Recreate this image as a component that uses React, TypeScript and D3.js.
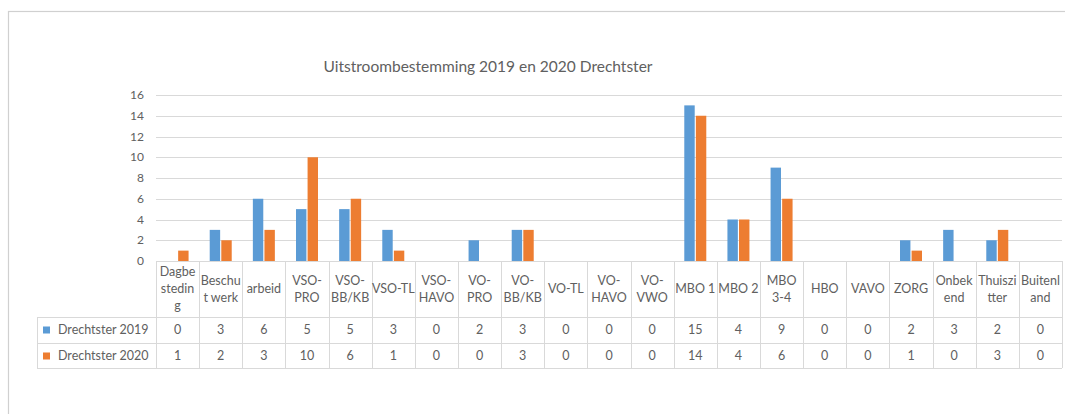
import { useRef, useEffect } from 'react';
import * as d3 from 'd3';

const categories = [
  'Dagbesteding', 'Beschut werk', 'arbeid', 'VSO-PRO', 'VSO-BB/KB', 'VSO-TL', 'VSO-HAVO',
  'VO-PRO', 'VO-BB/KB', 'VO-TL', 'VO-HAVO', 'VO-VWO', 'MBO 1', 'MBO 2', 'MBO 3-4',
  'HBO', 'VAVO', 'ZORG', 'Onbekend', 'Thuiszitter', 'Buitenland',
];
// header cell text as Excel wraps it
const categoryLines = [
  ['Dagbe', 'stedin', 'g'], ['Beschu', 't werk'], ['arbeid'], ['VSO-', 'PRO'], ['VSO-', 'BB/KB'],
  ['VSO-TL'], ['VSO-', 'HAVO'], ['VO-', 'PRO'], ['VO-', 'BB/KB'], ['VO-TL'], ['VO-', 'HAVO'],
  ['VO-', 'VWO'], ['MBO 1'], ['MBO 2'], ['MBO', '3-4'], ['HBO'], ['VAVO'], ['ZORG'],
  ['Onbek', 'end'], ['Thuiszi', 'tter'], ['Buitenl', 'and'],
];
const seriesNames = ['Drechtster 2019', 'Drechtster 2020'];
const values2019 = [0, 3, 6, 5, 5, 3, 0, 2, 3, 0, 0, 0, 15, 4, 9, 0, 0, 2, 3, 2, 0];
const values2020 = [1, 2, 3, 10, 6, 1, 0, 0, 3, 0, 0, 0, 14, 4, 6, 0, 0, 1, 0, 3, 0];
const yTicks = [0, 2, 4, 6, 8, 10, 12, 14, 16];
const colors = ['#5B9BD5', '#ED7D31'];
const title = 'Uitstroombestemming 2019 en 2020  Drechtster';

export default function App() {
  const svgRef = useRef<SVGSVGElement>(null);

  useEffect(() => {
    if (!svgRef.current) return;
    const svg = d3.select(svgRef.current);
    svg.selectAll('*').remove();

    const font = 'Lato, "Open Sans", sans-serif';
    const textColor = '#606060';
    const lineColor = '#d9d9d9';
    const left = 156, right = 1062, top = 95, bottom = 261;
    const row1 = 317, row2 = 343, row3 = 368, legendLeft = 37;

    // chart frame
    svg.append('rect').attr('x', 8.5).attr('y', 11.5).attr('width', 1070).attr('height', 420)
      .attr('fill', '#fff').attr('stroke', '#d0d0d0').attr('stroke-width', 1.2);

    svg.append('text').attr('x', 488).attr('y', 72).attr('text-anchor', 'middle')
      .attr('font-family', font).attr('font-size', 15.5).attr('fill', textColor).text(title);

    const x = d3.scaleBand().domain(categories).range([left, right]);
    const y = d3.scaleLinear().domain([0, 16]).range([bottom, top]);
    const bw = x.bandwidth();
    const xInner = d3.scaleBand().domain(seriesNames).range([bw / 2 - 11, bw / 2 + 11]).paddingInner(0.1);

    // gridlines
    svg.append('g').selectAll('line').data(yTicks).join('line')
      .attr('x1', left).attr('x2', right)
      .attr('y1', (d) => Math.round(y(d)) + 0.5).attr('y2', (d) => Math.round(y(d)) + 0.5)
      .attr('stroke', lineColor).attr('stroke-width', 1);

    svg.append('g').selectAll('text').data(yTicks).join('text')
      .attr('x', 144).attr('y', (d) => y(d)).attr('dy', '0.35em').attr('text-anchor', 'end')
      .attr('font-family', font).attr('font-size', 12).attr('fill', textColor)
      .text((d) => String(d));

    // bars
    const seriesValues = [values2019, values2020];
    seriesNames.forEach((name, si) => {
      svg.append('g').selectAll('rect').data(categories).join('rect')
        .attr('x', (c) => (x(c) ?? 0) + (xInner(name) ?? 0))
        .attr('y', (_, i) => y(seriesValues[si][i]))
        .attr('width', xInner.bandwidth())
        .attr('height', (_, i) => y(0) - y(seriesValues[si][i]))
        .attr('fill', colors[si]);
    });

    // data table
    const grid = svg.append('g').attr('stroke', lineColor).attr('stroke-width', 1);
    const bounds = categories.map((c) => x(c) ?? 0).concat([right]);
    bounds.forEach((bx) => {
      grid.append('line').attr('x1', Math.round(bx) + 0.5).attr('x2', Math.round(bx) + 0.5)
        .attr('y1', bottom).attr('y2', row3);
    });
    grid.append('line').attr('x1', legendLeft + 0.5).attr('x2', legendLeft + 0.5).attr('y1', row1).attr('y2', row3);
    [row1, row2, row3].forEach((ry) => {
      grid.append('line').attr('x1', legendLeft).attr('x2', right).attr('y1', ry + 0.5).attr('y2', ry + 0.5);
    });

    const lh = 17;
    const hdr = svg.append('g').attr('font-family', font).attr('font-size', 12.5).attr('fill', textColor)
      .attr('text-anchor', 'middle');
    categories.forEach((c, i) => {
      const lines = categoryLines[i];
      const cx = (x(c) ?? 0) + bw / 2;
      const cy = (bottom + row1) / 2 - ((lines.length - 1) * lh) / 2;
      lines.forEach((ln, li) => {
        hdr.append('text').attr('x', cx).attr('y', cy + li * lh).attr('dy', '0.35em').text(ln);
      });
    });

    [row1, row2].forEach((ry, si) => {
      const cy = ry + (row2 - row1) / 2;
      svg.append('rect').attr('x', 43).attr('y', cy - 3.5).attr('width', 7).attr('height', 7).attr('fill', colors[si]);
      svg.append('text').attr('x', 58).attr('y', cy).attr('dy', '0.35em')
        .attr('font-family', font).attr('font-size', 12.5).attr('fill', textColor).text(seriesNames[si]);
      svg.append('g').selectAll('text').data(categories).join('text')
        .attr('x', (c) => (x(c) ?? 0) + bw / 2).attr('y', cy).attr('dy', '0.35em')
        .attr('text-anchor', 'middle').attr('font-family', font).attr('font-size', 12.5).attr('fill', textColor)
        .text((_, i) => String(seriesValues[si][i]));
    });
  }, []);

  return (
    <svg ref={svgRef} width={1065} height={414}
      style={{ position: 'absolute', left: 0, top: 0, background: '#fff' }} />
  );
}
